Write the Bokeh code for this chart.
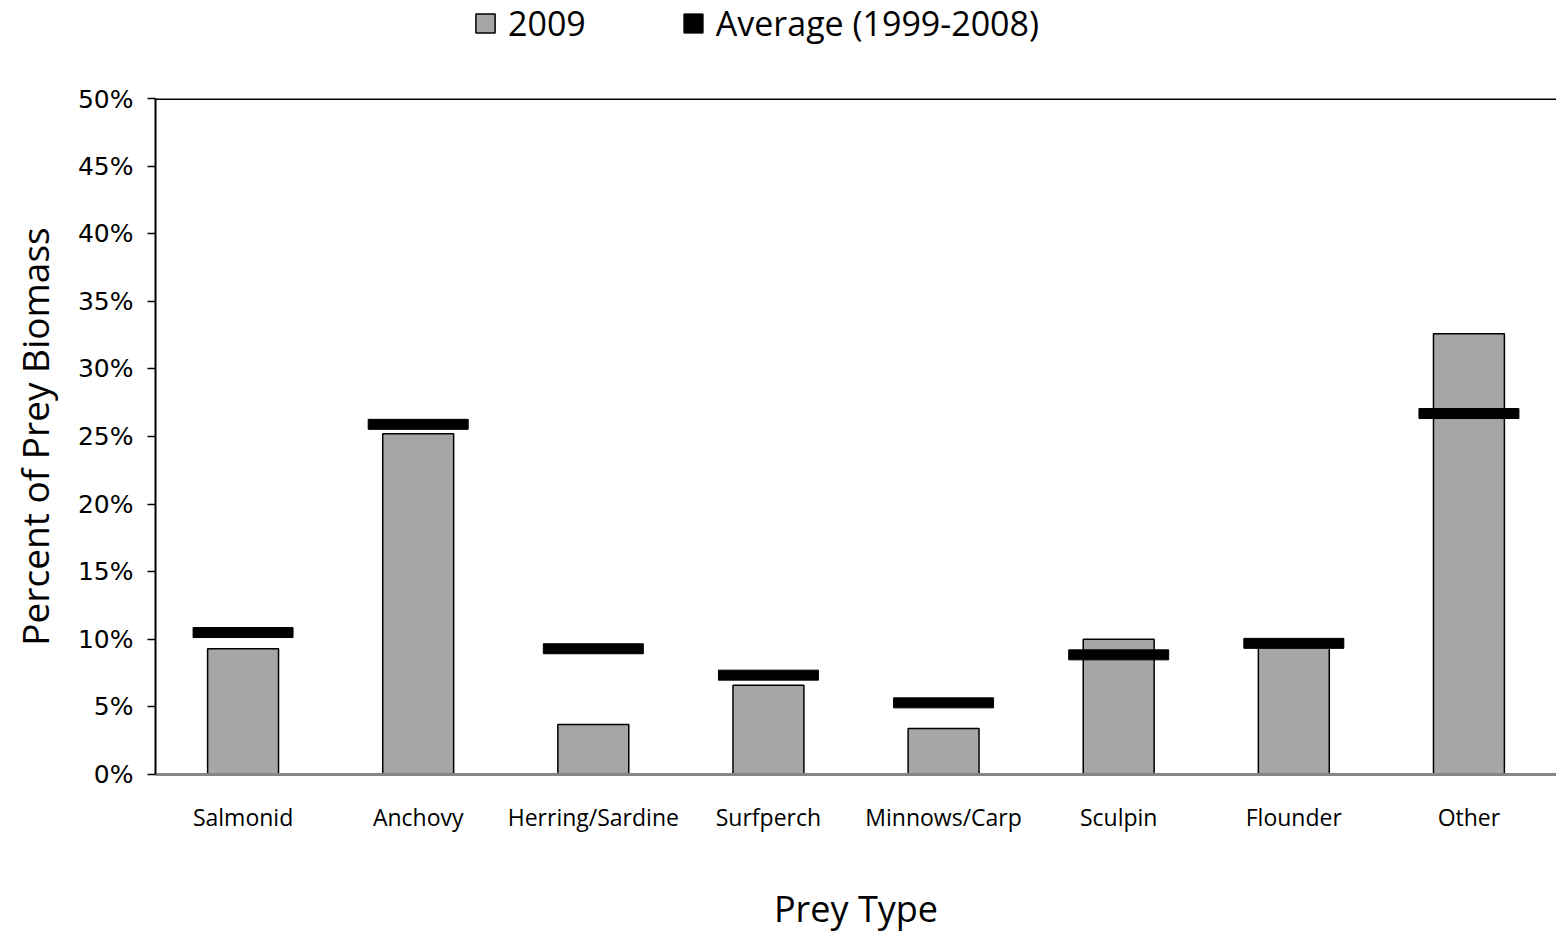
from bokeh.plotting import figure
from bokeh.layouts import column
from bokeh.models import (FactorRange, Range1d, FixedTicker, NumeralTickFormatter,
                          Legend, LegendItem, Span)
from bokeh.embed import file_html
from bokeh.resources import INLINE

categories = ["Salmonid", "Anchovy", "Herring/Sardine", "Surfperch",
              "Minnows/Carp", "Sculpin", "Flounder", "Other"]
values_2009 = [0.093, 0.252, 0.037, 0.066, 0.034, 0.100, 0.099, 0.326]
values_avg = [0.105, 0.259, 0.093, 0.0735, 0.053, 0.0885, 0.097, 0.267]
y_ticks = [0.0, 0.05, 0.10, 0.15, 0.20, 0.25, 0.30, 0.35, 0.40, 0.45, 0.50]
y_max = 0.5
series_names = ["2009", "Average (1999-2008)"]
x_title = "Prey Type"
y_title = "Percent of Prey Biomass"

FONT = "Open Sans"
BAR_FILL = "#a6a6a6"

W = 1556
TOP_H = 84          # legend strip height
MAIN_H = 851        # main chart height
LEFT, BOTTOM, TOP = 155, 159, 14

# ---------- legend strip ----------
p0 = figure(width=W, height=TOP_H, x_range=Range1d(0, 1), y_range=Range1d(0, 1),
            output_backend="svg", toolbar_location=None,
            min_border_left=0, min_border_right=0, min_border_top=0, min_border_bottom=0)
p0.axis.visible = False
p0.grid.visible = False
p0.outline_line_color = None
p0.background_fill_color = "white"
p0.border_fill_color = "white"
# legend-only glyph proxies (hidden renderers, legend still shows their swatches)
leg_bar = p0.vbar(x=[0.5], top=[0.5], width=0.01, fill_color=BAR_FILL,
                  line_color="black", line_width=1.5, visible=False)
leg_avg = p0.rect(x=[0.5], y=[0.5], width=0.01, height=0.01,
                  fill_color="black", line_color="black", visible=False)
legend = Legend(items=[LegendItem(label=series_names[0], renderers=[leg_bar]),
                       LegendItem(label=series_names[1], renderers=[leg_avg])],
                orientation="horizontal", location=(318, 38),
                padding=0, margin=0, spacing=95, label_standoff=11,
                glyph_width=24, glyph_height=24,
                label_text_font=FONT, label_text_font_size="34px",
                label_text_color="black",
                border_line_color=None, background_fill_alpha=0)
p0.add_layout(legend)

# ---------- main chart ----------
p = figure(x_range=FactorRange(*categories), y_range=Range1d(0, y_max),
           width=W, height=MAIN_H, output_backend="svg", toolbar_location=None,
           min_border_left=LEFT, min_border_right=0, min_border_top=TOP,
           min_border_bottom=BOTTOM)
p.outline_line_color = None
p.xgrid.visible = False
p.ygrid.visible = False
p.background_fill_color = "white"
p.border_fill_color = "white"

bars = p.vbar(x=categories, top=values_2009, width=0.405, fill_color=BAR_FILL,
              line_color="black", line_width=1.5)
avg = p.rect(x=categories, y=values_avg, width=0.571, height=10,
             height_units="screen", fill_color="black", line_color="black")

# top border line at 50%
p.add_layout(Span(location=y_max, dimension="width", line_color="black", line_width=3))

# y axis
ya = p.yaxis[0]
ya.ticker = FixedTicker(ticks=y_ticks)
ya.formatter = NumeralTickFormatter(format="0%")
ya.axis_line_color = "black"
ya.axis_line_width = 2
ya.major_tick_line_color = "black"
ya.major_tick_line_width = 1.5
ya.major_tick_out = 8
ya.major_tick_in = 0
ya.minor_tick_line_color = None
ya.major_label_standoff = 14
ya.major_label_text_font = "DejaVu Sans"
ya.major_label_text_font_size = "25px"
ya.major_label_text_color = "black"
ya.axis_label = y_title
ya.axis_label_text_font = FONT
ya.axis_label_text_font_size = "37px"
ya.axis_label_text_font_style = "normal"
ya.axis_label_text_color = "black"
ya.axis_label_standoff = 15

# x axis
xa = p.xaxis[0]
xa.axis_line_color = "#868686"
xa.axis_line_width = 3
xa.major_tick_line_color = None
xa.minor_tick_line_color = None
xa.major_label_standoff = 20
xa.major_label_text_font = FONT
xa.major_label_text_font_size = "23px"
xa.major_label_text_color = "black"
xa.axis_label = x_title
xa.axis_label_text_font = FONT
xa.axis_label_text_font_size = "36px"
xa.axis_label_text_font_style = "normal"
xa.axis_label_text_color = "black"
xa.axis_label_standoff = 48

layout = column(p0, p, spacing=0)
open("out.html", "w").write(file_html(layout, INLINE))
